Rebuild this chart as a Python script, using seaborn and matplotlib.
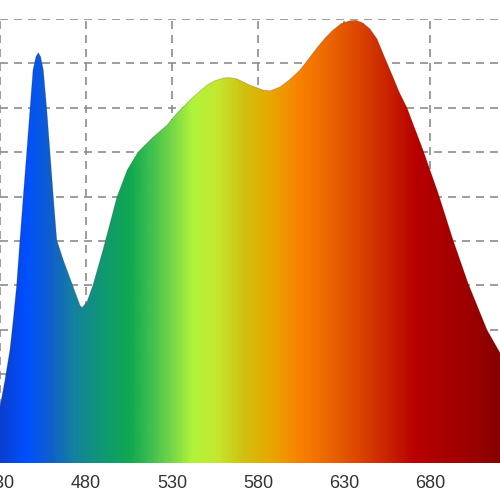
import numpy as np
import matplotlib
matplotlib.use("Agg")
import matplotlib.pyplot as plt
from matplotlib.colors import LinearSegmentedColormap
import seaborn as sns

# --- spectrum (wavelength in nm, relative intensity) ---
wavelength = [430.0, 432.9, 435.8, 437.7, 439.7, 441.6, 443.5, 445.5, 447.4, 449.2,
              450.9, 452.3, 453.6, 455.2, 457.2, 459.1, 461.0, 463.0, 466.8, 472.6,
              476.5, 477.7, 480.6, 484.1, 489.9, 494.0, 498.0, 504.0, 510.2, 519.0,
              527.1, 532.9, 542.2, 550.3, 555.0, 559.7, 563.5, 567.8, 575.3, 582.9,
              587.0, 592.8, 598.0, 604.4, 609.0, 614.3, 619.0, 623.6, 628.5, 633.5,
              637.0, 641.0, 645.0, 649.2, 654.0, 658.5, 662.0, 666.6, 675.9, 684.7,
              693.4, 702.1, 713.1, 720.7, 726.0]
intensity = [0.126, 0.187, 0.255, 0.322, 0.401, 0.502, 0.599, 0.698, 0.795, 0.885,
             0.915, 0.924, 0.915, 0.885, 0.795, 0.698, 0.599, 0.502, 0.457, 0.396,
             0.355, 0.350, 0.363, 0.401, 0.480, 0.540, 0.599, 0.660, 0.700, 0.734,
             0.761, 0.788, 0.824, 0.851, 0.861, 0.867, 0.868, 0.865, 0.851, 0.840,
             0.838, 0.847, 0.862, 0.885, 0.908, 0.935, 0.957, 0.975, 0.990, 0.996,
             0.997, 0.991, 0.978, 0.955, 0.910, 0.869, 0.836, 0.800, 0.705, 0.608,
             0.502, 0.405, 0.300, 0.248, 0.190]

# colour of the fill along the wavelength axis
stop_nm = [430, 445, 460, 472, 490, 505, 518, 532, 542, 556, 572, 587, 605, 625, 642, 657, 672, 690, 708, 721]
stop_col = ["#0a3fd0", "#0050ff", "#1060c8", "#1580a0", "#0f9a70", "#10a850", "#40c050",
            "#80dc45", "#b0f43a", "#c4e830", "#d0c010", "#e8a800", "#f88000", "#e86000",
            "#d84000", "#c82000", "#b80000", "#a80000", "#980000", "#880000"]

x_ticks = [430, 480, 530, 580, 630, 680]
y_grid = [0.1, 0.2, 0.3, 0.4, 0.5, 0.6, 0.7, 0.8, 0.9, 1.0]

sns.set_style("white")
plt.rcParams["font.family"] = ["Liberation Sans", "DejaVu Sans"]

fig = plt.figure(figsize=(5, 5), dpi=100)
ax = fig.add_axes([0, 0.074, 1, 0.888])
x_lo, x_hi = 430, 430 + 500 * 50 / 86

# dashed grid behind the spectrum
for xv in x_ticks:
    ax.axvline(xv, color="#8c8c8c", lw=1.2, ls=(0, (4.8, 3.6)), zorder=0)
for yv in y_grid:
    ax.axhline(yv, color="#8c8c8c", lw=1.2, ls=(0, (4.8, 3.6)), zorder=0)

# gradient fill clipped to the spectrum shape
span = stop_nm[-1] - stop_nm[0]
cmap = LinearSegmentedColormap.from_list(
    "spec", [((n - stop_nm[0]) / span, c) for n, c in zip(stop_nm, stop_col)])
grad = np.linspace(0, 1, 600).reshape(1, -1)
img = ax.imshow(grad, cmap=cmap, aspect="auto", extent=[stop_nm[0], stop_nm[-1], 0, 1],
                interpolation="bicubic", zorder=2)
poly = ax.fill_between(wavelength, intensity, 0, color="none", lw=0, zorder=2)
img.set_clip_path(poly.get_paths()[0], transform=ax.transData)

# faint outline along the top of the spectrum
sns.lineplot(x=wavelength, y=intensity, ax=ax, color="#402010", lw=0.6, alpha=0.25, zorder=3)

ax.set_xticks(x_ticks)
ax.set_yticks([])
ax.tick_params(axis="x", length=0, pad=8.6, labelsize=13, labelcolor="#333333")
for s in ax.spines.values():
    s.set_visible(False)
ax.set_xlim(x_lo, x_hi)
ax.set_ylim(0, 1.0)

fig.savefig("out.png", dpi=100)
